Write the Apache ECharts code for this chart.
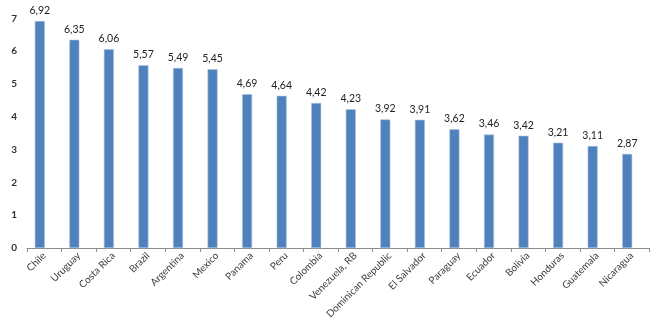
<!DOCTYPE html>
<html>
<head>
<meta charset="utf-8">
<script src="https://cdn.jsdelivr.net/npm/echarts@6/dist/echarts.min.js"></script>
<style>
  html, body { margin: 0; padding: 0; background: #fff; }
  #chart { width: 657px; height: 331px; }
</style>
</head>
<body>
<div id="chart"></div>
<script>
// Countries, ordered by score
const countries = [
  'Chile', 'Uruguay', 'Costa Rica', 'Brazil', 'Argentina', 'Mexico',
  'Panama', 'Peru', 'Colombia', 'Venezuela, RB', 'Dominican Republic',
  'El Salvador', 'Paraguay', 'Ecuador', 'Bolivia', 'Honduras',
  'Guatemala', 'Nicaragua'
];
const scores = [
  6.92, 6.35, 6.06, 5.57, 5.49, 5.45,
  4.69, 4.64, 4.42, 4.23, 3.92,
  3.91, 3.62, 3.46, 3.42, 3.21,
  3.11, 2.87
];
const yTicks = [0, 1, 2, 3, 4, 5, 6, 7];

const font = 'Lato, "Open Sans", sans-serif';
const chart = echarts.init(document.getElementById('chart'), null, { renderer: 'canvas' });

chart.setOption({
  animation: false,
  backgroundColor: '#ffffff',
  grid: { left: 27, right: 8, top: 18.4, bottom: 83, containLabel: false },
  xAxis: {
    type: 'category',
    data: countries,
    boundaryGap: true,
    axisLine: { show: true, lineStyle: { color: '#8c8c8c', width: 1 } },
    axisTick: { show: true, length: 4, inside: false, lineStyle: { color: '#8c8c8c' } },
    axisLabel: {
      interval: 0,
      rotate: 45,
      margin: 6,
      color: '#404040',
      fontFamily: font,
      fontSize: 10
    }
  },
  yAxis: {
    type: 'value',
    min: yTicks[0],
    max: yTicks[yTicks.length - 1],
    interval: 1,
    splitLine: { show: false },
    axisLine: { show: false },
    axisTick: { show: false },
    axisLabel: {
      margin: 10,
      color: '#333333',
      fontFamily: font,
      fontWeight: 'bold',
      fontSize: 10
    }
  },
  series: [
    {
      type: 'bar',
      data: scores,
      barWidth: 10,
      barGap: 0,
      itemStyle: {
        color: '#4f81bd',
        borderColor: '#a9c1e0',
        borderWidth: 0.6
      },
      label: {
        show: true,
        position: 'top',
        distance: 5,
        color: '#222222',
        fontFamily: font,
        fontSize: 10.5,
        formatter: p => p.value.toFixed(2).replace('.', ',')
      }
    },
    {
      // empty companion series that shifts the bars left inside each category
      type: 'bar',
      data: [],
      barWidth: 9,
      barGap: 0,
      silent: true,
      itemStyle: { color: 'transparent' }
    }
  ]
});
</script>
</body>
</html>
